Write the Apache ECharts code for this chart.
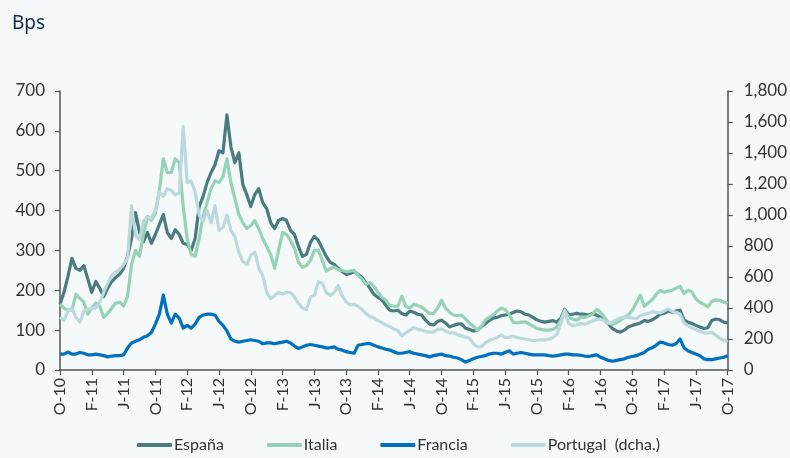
<!DOCTYPE html>
<html><head><meta charset="utf-8">
<script src="https://cdn.jsdelivr.net/npm/echarts@6/dist/echarts.min.js"></script>
<style>html,body{margin:0;padding:0;background:#f5f9fa;}#c{width:790px;height:458px;}</style>
</head><body><div id="c"></div><script>
// Tick labels every 4 months (O = octubre, F = febrero, J = junio)
const tickLabels = ['O-10','F-11','J-11','O-11','F-12','J-12','O-12','F-13','J-13','O-13','F-14','J-14','O-14','F-15','J-15','O-15','F-16','J-16','O-16','F-17','J-17','O-17'];
const seriesNames = ['España','Italia','Francia','Portugal  (dcha.)'];
// Half-monthly readings (1st and 16th of each month), Oct-2010 .. Oct-2017, bps
const espana = [
165,195,235,280,255,250,262,228,195,222,
205,184,205,222,232,240,255,285,330,395,
345,322,345,318,340,365,390,345,330,352,
340,318,315,300,330,410,435,470,495,515,
550,545,640,560,520,545,465,440,410,440,
455,420,405,370,355,375,380,375,350,340,
310,285,290,320,335,325,305,285,270,265,
255,247,240,242,247,240,232,218,205,190,
182,176,162,150,148,150,142,138,148,145,
140,138,125,115,113,122,125,118,108,112,
115,116,105,102,98,100,108,116,124,130,
132,136,138,140,144,148,146,140,138,132,
126,122,120,122,124,120,130,152,138,140,
142,140,140,138,142,138,132,125,115,104,
98,95,100,108,112,115,118,124,122,126,
132,140,142,148,145,148,150,126,120,117,
112,108,104,106,124,128,126,120,118];
const italia = [
165,155,150,150,190,180,170,140,155,168,
160,132,142,155,168,170,160,185,265,300,
285,340,385,375,392,450,530,495,495,530,
520,410,330,290,285,330,385,420,455,475,
470,485,530,470,430,390,370,355,362,375,
355,330,310,290,255,300,345,340,325,305,
270,258,262,275,300,300,275,248,255,258,
252,250,247,248,250,238,228,215,220,210,
195,182,175,162,160,160,185,160,155,165,
162,158,150,142,142,155,175,155,145,138,
136,138,128,118,110,100,108,125,132,138,
148,155,152,140,120,118,120,121,116,110,
104,102,100,100,102,108,125,150,132,128,
125,132,132,135,140,152,145,132,118,115,
118,125,132,138,150,168,188,160,168,176,
190,200,195,198,200,205,210,192,200,196,
178,170,165,158,172,176,175,170,168];
const francia = [
40,40,45,40,40,44,42,38,38,40,
38,36,33,35,36,36,38,55,68,72,
76,82,86,94,115,140,188,140,118,140,
130,105,112,105,115,132,138,140,140,138,
122,112,98,78,72,70,72,74,76,74,
72,66,68,68,66,68,70,72,68,60,
54,58,62,64,62,60,58,55,56,58,
52,50,46,44,42,62,64,66,66,62,
58,55,52,50,46,42,42,44,46,42,
40,38,36,33,36,38,40,36,35,32,
30,26,20,24,28,32,34,36,40,42,
42,40,44,48,40,42,44,42,40,38,
38,38,38,36,35,36,38,40,40,38,
38,37,35,34,36,38,32,28,24,22,
24,26,28,32,34,36,40,44,52,56,
62,70,68,64,62,66,78,56,48,44,
40,36,28,26,26,28,30,32,36];
const portugal = [
340,320,380,400,340,310,380,390,400,400,
440,500,560,610,630,650,680,720,1060,870,
840,960,990,980,1030,1150,1120,1170,1160,1130,
1140,1570,1210,1220,1150,1000,960,1030,950,1060,
900,920,1000,900,860,760,700,680,740,760,
660,610,500,460,480,500,490,500,500,470,
430,400,390,470,480,570,560,500,480,500,
545,480,440,420,425,410,390,365,345,335,
320,305,290,280,265,255,220,240,255,275,
262,258,248,245,245,262,265,250,240,240,
228,220,212,205,170,150,150,175,190,200,
210,225,210,210,220,210,205,200,195,190,
192,195,194,200,210,230,300,380,300,285,
290,300,295,305,318,325,330,315,300,310,
325,335,342,340,335,330,350,360,365,375,
372,368,380,395,378,372,362,305,285,272,
262,250,240,238,245,225,205,192,182];

const categories = [];
for (let i = 0; i < espana.length; i++) {
  const mi = 9 + Math.floor(i / 2);
  const y = 2010 + Math.floor(mi / 12);
  const m = mi % 12 + 1;
  categories.push(y + '-' + String(m).padStart(2, '0') + '-' + (i % 2 ? '16' : '01'));
}
const colors = ['#4a7b7f', '#96d3b6', '#0070c0', '#bcd9dd'];
const FONT = 'Lato';
const axisColor = '#555';
const labelColor = '#333';
const every8 = (idx) => idx % 8 === 0;
const fmtComma = (v) => String(v).replace(/\B(?=(\d{3})+(?!\d))/g, ',');

const chart = echarts.init(document.getElementById('c'), null, {renderer: 'canvas'});
const mk = (name, data, color, yi) => ({
  name, type: 'line', data, yAxisIndex: yi, showSymbol: false, symbol: 'none',
  lineStyle: {color, width: 3.2, join: 'round'}, itemStyle: {color}, animation: false
});
chart.setOption({
  backgroundColor: '#f5f9fa',
  animation: false,
  title: {text: 'Bps', left: 7, top: 9, textStyle: {fontFamily: 'Noto Sans', fontSize: 19, fontWeight: 'normal', color: '#13294b'}},
  grid: {left: 60, right: 62, top: 91, bottom: 88},
  legend: {
    bottom: 0, left: 132, icon: 'roundRect', itemWidth: 35, itemHeight: 4, itemGap: 43,
    data: seriesNames,
    textStyle: {fontFamily: FONT, fontSize: 16, color: labelColor, padding: [0, 0, 0, -3]}
  },
  xAxis: {
    type: 'category', data: categories, boundaryGap: false,
    axisLine: {lineStyle: {color: axisColor, width: 1.5}},
    axisTick: {show: true, interval: every8, length: 5, lineStyle: {color: axisColor, width: 1.2}},
    axisLabel: {interval: every8, rotate: 90, margin: 8, fontFamily: FONT, fontSize: 16, color: labelColor,
      formatter: (v, idx) => tickLabels[idx / 8]},
    splitLine: {show: false}
  },
  yAxis: [
    {type: 'value', min: 0, max: 700, interval: 100, position: 'left',
     axisLine: {show: true, lineStyle: {color: axisColor, width: 1.5}},
     axisTick: {show: true, length: 5, lineStyle: {color: axisColor, width: 1.2}},
     axisLabel: {fontFamily: FONT, fontSize: 17, color: labelColor, margin: 15},
     splitLine: {show: false}},
    {type: 'value', min: 0, max: 1800, interval: 200, position: 'right',
     axisLine: {show: true, lineStyle: {color: axisColor, width: 1.5}},
     axisTick: {show: true, length: 5, lineStyle: {color: axisColor, width: 1.2}},
     axisLabel: {fontFamily: FONT, fontSize: 17, color: labelColor, margin: 16, formatter: fmtComma},
     splitLine: {show: false}}
  ],
  series: [
    mk(seriesNames[0], espana, colors[0], 0),
    mk(seriesNames[1], italia, colors[1], 0),
    mk(seriesNames[2], francia, colors[2], 0),
    mk(seriesNames[3], portugal, colors[3], 1)
  ]
});
</script></body></html>
